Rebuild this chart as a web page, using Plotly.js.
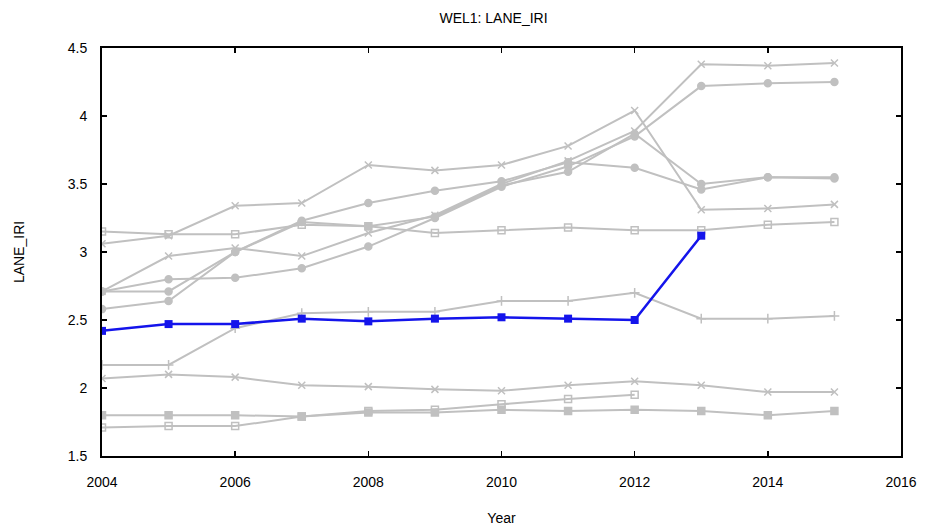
<!DOCTYPE html>
<html>
<head>
<meta charset="utf-8">
<script src="https://cdn.plot.ly/plotly-3.0.1.min.js"></script>
<style>html,body{margin:0;padding:0;background:#fff;}#chart{width:925px;height:532px;}</style>
</head>
<body>
<div id="chart"></div>
<script>
const years = [2004, 2005, 2006, 2007, 2008, 2009, 2010, 2011, 2012, 2013, 2014, 2015];

// Highlighted section (blue)
const wel1 = [2.42, 2.47, 2.47, 2.51, 2.49, 2.51, 2.52, 2.51, 2.50, 3.12];

// Other sections (grey)
const sec1 = [3.15, 3.13, 3.13, 3.20, 3.19, 3.14, 3.16, 3.18, 3.16, 3.16, 3.20, 3.22];
const sec2 = [3.06, 3.12, 3.34, 3.36, 3.64, 3.60, 3.64, 3.78, 4.04, 3.31, 3.32, 3.35];
const sec3 = [2.71, 2.71, 3.00, 3.23, 3.36, 3.45, 3.52, 3.66, 3.62, 3.46, 3.55, 3.54];
const sec4 = [2.58, 2.64, 3.00, 3.22, 3.19, 3.26, 3.49, 3.59, 3.87, 3.50, 3.55, 3.55];
const sec5 = [2.71, 2.97, 3.03, 2.97, 3.14, 3.27, 3.50, 3.67, 3.89, 4.38, 4.37, 4.39];
const sec6 = [2.71, 2.80, 2.81, 2.88, 3.04, 3.25, 3.48, 3.63, 3.85, 4.22, 4.24, 4.25];
const sec7 = [2.17, 2.17, 2.44, 2.55, 2.56, 2.56, 2.64, 2.64, 2.70, 2.51, 2.51, 2.53];
const sec8 = [2.07, 2.10, 2.08, 2.02, 2.01, 1.99, 1.98, 2.02, 2.05, 2.02, 1.97, 1.97];
const sec9 = [1.80, 1.80, 1.80, 1.79, 1.82, 1.82, 1.84, 1.83, 1.84, 1.83, 1.80, 1.83];
const sec10 = [1.71, 1.72, 1.72, 1.79, 1.83, 1.84, 1.88, 1.92, 1.95];

const greySeries = [
  {y: sec1, sym: 'square-open'},
  {y: sec2, sym: 'x-thin-open'},
  {y: sec3, sym: 'circle'},
  {y: sec4, sym: 'circle'},
  {y: sec5, sym: 'x-thin-open'},
  {y: sec6, sym: 'circle'},
  {y: sec7, sym: 'cross-thin-open'},
  {y: sec8, sym: 'x-thin-open'},
  {y: sec9, sym: 'square'},
  {y: sec10, sym: 'square-open'}
];

const grey = 'rgb(192,192,192)';
const traces = greySeries.map(s => ({
  x: years.slice(0, s.y.length),
  y: s.y,
  type: 'scatter',
  mode: 'lines+markers',
  line: {color: grey, width: 2},
  marker: {symbol: s.sym, size: 7, color: grey, line: {color: grey, width: 1.5}},
  showlegend: false,
  hoverinfo: 'x+y'
}));

traces.push({
  x: years.slice(0, wel1.length),
  y: wel1,
  type: 'scatter',
  mode: 'lines+markers',
  line: {color: 'rgb(20,20,235)', width: 2.5},
  marker: {symbol: 'square', size: 8, color: 'rgb(20,20,235)'},
  showlegend: false
});

const font = {family: 'Liberation Sans, Arial, sans-serif', size: 14, color: '#000'};

const layout = {
  width: 925,
  height: 532,
  margin: {l: 102, r: 24, t: 48, b: 76},
  paper_bgcolor: '#fff',
  plot_bgcolor: '#fff',
  font: font,
  title: {text: 'WEL1: LANE_IRI', font: {family: font.family, size: 14, color: '#000'}, xref: 'paper', x: 0.49, xanchor: 'center', y: 0.966, yanchor: 'middle'},
  xaxis: {
    range: [2004, 2016],
    tickvals: [2004, 2006, 2008, 2010, 2012, 2014, 2016],
    ticktext: ['2004', '2006', '2008', '2010', '2012', '2014', '2016'],
    ticks: 'inside', ticklen: 5, tickwidth: 1.5, tickcolor: '#000',
    showline: true, linecolor: '#000', linewidth: 2, mirror: 'ticks',
    showgrid: false, zeroline: false,
    ticklabelstandoff: 12,
    tickfont: {family: font.family, size: 14, color: '#000'},
    title: {text: 'Year', font: {family: font.family, size: 14, color: '#000'}, standoff: 24}
  },
  yaxis: {
    range: [1.5, 4.5],
    tickvals: [1.5, 2, 2.5, 3, 3.5, 4, 4.5],
    ticktext: ['1.5', '2', '2.5', '3', '3.5', '4', '4.5'],
    ticks: 'inside', ticklen: 5, tickwidth: 1.5, tickcolor: '#000',
    showline: true, linecolor: '#000', linewidth: 2, mirror: 'ticks',
    showgrid: false, zeroline: false,
    ticklabelstandoff: 10,
    tickfont: {family: font.family, size: 14, color: '#000'},
    title: {text: 'LANE_IRI', font: {family: font.family, size: 14, color: '#000'}, standoff: 40}
  }
};

Plotly.newPlot('chart', traces, layout, {staticPlot: true, displayModeBar: false});
</script>
</body>
</html>
